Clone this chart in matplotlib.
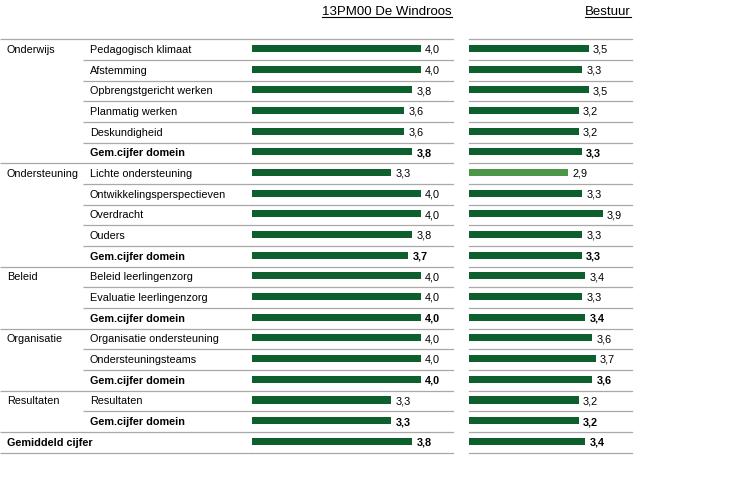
import matplotlib
matplotlib.use("Agg")
import matplotlib.pyplot as plt
from matplotlib.lines import Line2D

plt.rcParams['font.family'] = ['Liberation Sans', 'DejaVu Sans']

# ---- data ----
row_group = ["Onderwijs", "", "", "", "", "",
             "Ondersteuning", "", "", "", "",
             "Beleid", "", "",
             "Organisatie", "", "",
             "Resultaten", "",
             "Gemiddeld cijfer"]
row_item = ["Pedagogisch klimaat", "Afstemming", "Opbrengstgericht werken",
            "Planmatig werken", "Deskundigheid", "Gem.cijfer domein",
            "Lichte ondersteuning", "Ontwikkelingsperspectieven", "Overdracht",
            "Ouders", "Gem.cijfer domein",
            "Beleid leerlingenzorg", "Evaluatie leerlingenzorg", "Gem.cijfer domein",
            "Organisatie ondersteuning", "Ondersteuningsteams", "Gem.cijfer domein",
            "Resultaten", "Gem.cijfer domein",
            ""]
school = [4.0, 4.0, 3.8, 3.6, 3.6, 3.8,
          3.3, 4.0, 4.0, 3.8, 3.7,
          4.0, 4.0, 4.0,
          4.0, 4.0, 4.0,
          3.3, 3.3,
          3.8]
bestuur = [3.5, 3.3, 3.5, 3.2, 3.2, 3.3,
           2.9, 3.3, 3.9, 3.3, 3.3,
           3.4, 3.3, 3.4,
           3.6, 3.7, 3.6,
           3.2, 3.2,
           3.4]
titles = ["13PM00 De Windroos", "Bestuur"]

# ---- style ----
W, H = 747, 484
DARK = "#0d5f2e"
LIGHT = "#4c9648"
GRID = "#a8a8a8"
FS = 7.8
top_px, bot_px = 39.3, 452.7
n = len(row_item)
XMAX = 4.76
BASE = 0.66  # text baseline position within a row (row units)

fig = plt.figure(figsize=(W / 100, H / 100), dpi=100)

def ax_at(x0, x1):
    a = fig.add_axes([x0 / W, 1 - bot_px / H, (x1 - x0) / W, (bot_px - top_px) / H])
    a.set_ylim(n, 0)
    a.axis("off")
    return a

ax_lab = ax_at(0, 252)
ax_lab.set_xlim(0, 252)
ax1 = ax_at(252, 453)
ax2 = ax_at(469, 632)
for a in (ax1, ax2):
    a.set_xlim(0, XMAX)

bold = [it == "Gem.cijfer domein" or (it == "" and g != "") for it, g in zip(row_item, row_group)]

# separator lines
for b in range(n + 1):
    full = b == 0 or b == n or row_group[b] != ""
    ax_lab.plot([0 if full else 83, 252], [b, b], color=GRID, lw=0.9,
                solid_capstyle="butt", clip_on=False)
    ax1.axhline(b, color=GRID, lw=0.9, clip_on=False)
    ax2.axhline(b, color=GRID, lw=0.9, clip_on=False)

# labels
for i in range(n):
    y = i + BASE
    if row_group[i]:
        ax_lab.text(7, y, row_group[i], fontsize=FS, va="baseline", ha="left",
                    fontweight="bold" if bold[i] else "normal")
    if row_item[i]:
        ax_lab.text(90, y, row_item[i], fontsize=FS, va="baseline", ha="left",
                    fontweight="bold" if bold[i] else "normal")

ys = [i + 0.45 for i in range(n)]
ax1.barh(ys, school, height=0.34, left=0, color=DARK)
colors2 = [LIGHT if v < 3.0 else DARK for v in bestuur]
ax2.barh(ys, bestuur, height=0.34, left=0, color=colors2)

for a, vals in ((ax1, school), (ax2, bestuur)):
    for i, v in enumerate(vals):
        a.annotate(f"{v:.1f}".replace(".", ","), (v, i + BASE), xytext=(3, 0),
                   textcoords="offset points", va="baseline", ha="left", fontsize=FS,
                   fontweight="bold" if bold[i] else "normal", clip_on=False)

# headers (underlined)
hdrs = []
for xr, t in ((452, titles[0]), (631, titles[1])):
    hdrs.append(fig.text(xr / W, 1 - 15 / H, t, fontsize=9.5, ha="right", va="baseline"))
fig.canvas.draw()
r = fig.canvas.get_renderer()
for t in hdrs:
    bb = t.get_window_extent(r)
    yl = 1 - 16.8 / H
    fig.add_artist(Line2D([bb.x0 / W, bb.x1 / W], [yl, yl], color="black", lw=0.8,
                          transform=fig.transFigure))

fig.savefig("out.png", dpi=100)
